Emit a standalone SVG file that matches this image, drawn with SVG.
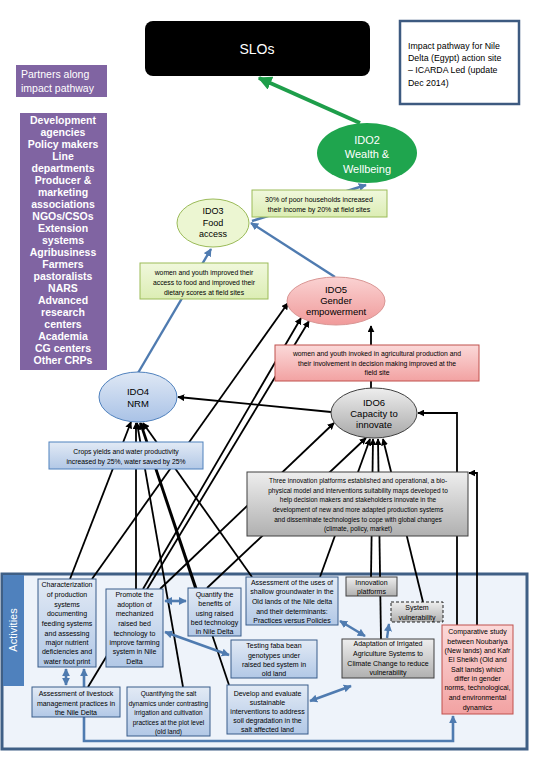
<svg xmlns="http://www.w3.org/2000/svg" width="540" height="780" viewBox="0 0 540 780">
<defs>
<style>
text{font-family:"Liberation Sans",Arial,sans-serif;text-anchor:middle;fill:#000}
.s7{font-size:7px}
.s68{font-size:6.8px}
.s65{font-size:6.5px}
.w{fill:#fff}
.bk{stroke:#000;stroke-width:1.8;fill:none;marker-end:url(#ab)}
.bl{stroke:#4f7bb0;stroke-width:2.4;fill:none}
.bl2{stroke:#4f7bb0;stroke-width:2.6;fill:none;marker-start:url(#au);marker-end:url(#au)}
.bbox{fill:url(#gb);stroke:#385d8a;stroke-width:1}
.gbox{fill:url(#gg);stroke:#404040;stroke-width:1}
.pbox{fill:url(#gp);stroke:#c0504d;stroke-width:1}
.lbox{fill:url(#gl);stroke:#9bbb59;stroke-width:1}
</style>
<linearGradient id="gb" x1="0" y1="0" x2="0" y2="1"><stop offset="0" stop-color="#e2eaf5"/><stop offset="1" stop-color="#b2c8e6"/></linearGradient>
<linearGradient id="gg" x1="0" y1="0" x2="0" y2="1"><stop offset="0" stop-color="#eeeeee"/><stop offset="1" stop-color="#b0b0b0"/></linearGradient>
<linearGradient id="gp" x1="0" y1="0" x2="0" y2="1"><stop offset="0" stop-color="#fbd9d9"/><stop offset="1" stop-color="#f2a2a2"/></linearGradient>
<linearGradient id="gl" x1="0" y1="0" x2="0" y2="1"><stop offset="0" stop-color="#f0f8dc"/><stop offset="1" stop-color="#dcedb4"/></linearGradient>
<linearGradient id="ge5" x1="0" y1="0" x2="0" y2="1"><stop offset="0" stop-color="#fad2d2"/><stop offset="1" stop-color="#f09a9a"/></linearGradient>
<linearGradient id="ge4" x1="0" y1="0" x2="0" y2="1"><stop offset="0" stop-color="#dfe8f5"/><stop offset="1" stop-color="#a9c2e6"/></linearGradient>
<linearGradient id="ge6" x1="0" y1="0" x2="0" y2="1"><stop offset="0" stop-color="#eeeeee"/><stop offset="1" stop-color="#a8a8a8"/></linearGradient>
<marker id="ab" viewBox="0 0 10 10" refX="9" refY="5" markerWidth="7" markerHeight="7" markerUnits="userSpaceOnUse" orient="auto-start-reverse"><path d="M0,0 L10,5 L0,10 z" fill="#000"/></marker>
<marker id="au" viewBox="0 0 10 10" refX="9" refY="5" markerWidth="8" markerHeight="8" markerUnits="userSpaceOnUse" orient="auto-start-reverse"><path d="M0,0 L10,5 L0,10 z" fill="#4f7bb0"/></marker>
<marker id="ag" viewBox="0 0 10 10" refX="9" refY="5" markerWidth="14" markerHeight="14" markerUnits="userSpaceOnUse" orient="auto"><path d="M0,0 L10,5 L0,10 z" fill="#1e9e4a"/></marker>
</defs>
<rect width="540" height="780" fill="#fff"/>

<g id="activities-frame">
<rect x="2" y="574" width="525" height="175" fill="#eef3fa" stroke="#3f5f85" stroke-width="3"/>
<rect x="3" y="575" width="21" height="111" fill="#4f81bd"/>
<text class="w" transform="translate(17,630) rotate(-90)" style="font-size:11px">Activities</text>
</g>

<g id="connectors">
<line x1="360" y1="123" x2="259" y2="78" stroke="#1e9e4a" stroke-width="4" marker-end="url(#ag)"/>
<line x1="252" y1="221" x2="366" y2="185" class="bl" marker-end="url(#au)"/>
<line x1="335" y1="277" x2="251" y2="223" class="bl" marker-end="url(#au)"/>
<line x1="138" y1="373" x2="211" y2="249" class="bl" marker-end="url(#au)"/>
<line x1="371" y1="388" x2="371" y2="326" class="bk"/>
<line x1="331" y1="412" x2="178" y2="397" class="bk"/>
<line x1="70" y1="579" x2="131" y2="422" class="bk"/>
<line x1="92" y1="579" x2="288" y2="303" class="bk"/>
<line x1="143" y1="589" x2="301" y2="318" class="bk"/>
<line x1="88" y1="687" x2="309" y2="321" class="bk"/>
<line x1="136" y1="589" x2="136" y2="423" class="bk"/>
<line x1="160" y1="589" x2="334" y2="423" class="bk"/>
<line x1="195" y1="588" x2="140" y2="423" class="bk"/>
<line x1="207" y1="588" x2="366" y2="438" class="bk"/>
<line x1="183" y1="687" x2="137" y2="423" class="bk"/>
<line x1="229" y1="685" x2="141" y2="423" class="bk"/>
<line x1="252" y1="577" x2="143" y2="423" class="bk"/>
<line x1="320" y1="577" x2="370" y2="439" class="bk"/>
<line x1="371" y1="577" x2="373" y2="439" class="bk"/>
<line x1="381" y1="639" x2="378" y2="439" class="bk"/>
<line x1="423" y1="602" x2="383" y2="439" class="bk"/>
<polyline points="457,625 457,413 418,413" class="bk"/>
<polyline points="477,625 477,473 469,473" class="bk"/>
<line x1="66" y1="669" x2="66" y2="685" class="bl2"/>
<line x1="165" y1="601" x2="186" y2="601" class="bl2"/>
<line x1="165" y1="632" x2="229" y2="655" class="bl2"/>
<line x1="340" y1="621" x2="365" y2="636" class="bl2"/>
<line x1="387" y1="638" x2="389" y2="624" class="bl" marker-end="url(#au)"/>
<line x1="310" y1="701" x2="351" y2="686" class="bl2"/>
<polyline points="84,669 84,741 453,741 453,716" class="bl2"/>
</g>

<g id="slos">
<rect x="145" y="21" width="225" height="55" rx="8" fill="#000"/>
<text class="w" x="257" y="54" style="font-size:14px">SLOs</text>
</g>

<g id="title">
<rect x="400" y="21" width="119" height="83" fill="#fff" stroke="#3d5a80" stroke-width="2.5"/>
<text x="408" y="49" style="font-size:8.8px;text-anchor:start">Impact pathway for Nile</text>
<text x="408" y="61" style="font-size:8.8px;text-anchor:start">Delta (Egypt) action site</text>
<text x="408" y="73" style="font-size:8.8px;text-anchor:start">– ICARDA Led (update</text>
<text x="408" y="86" style="font-size:8.8px;text-anchor:start">Dec 2014)</text>
</g>

<g id="partners-label">
<rect x="16" y="65" width="91" height="32" fill="#8064a2"/>
<text class="w" x="21" y="78" style="font-size:10.5px;text-anchor:start">Partners along</text>
<text class="w" x="21" y="92" style="font-size:10.5px;text-anchor:start">impact pathway</text>
</g>

<g id="partners" style="font-size:10.5px;font-weight:bold">
<rect x="20" y="113" width="87" height="257" fill="#8064a2"/>
<text class="w" x="63" y="124">Development</text>
<text class="w" x="63" y="136">agencies</text>
<text class="w" x="63" y="148">Policy makers</text>
<text class="w" x="63" y="160">Line</text>
<text class="w" x="63" y="172">departments</text>
<text class="w" x="63" y="184">Producer &amp;</text>
<text class="w" x="63" y="196">marketing</text>
<text class="w" x="63" y="208">associations</text>
<text class="w" x="63" y="220">NGOs/CSOs</text>
<text class="w" x="63" y="232">Extension</text>
<text class="w" x="63" y="244">systems</text>
<text class="w" x="63" y="256">Agribusiness</text>
<text class="w" x="63" y="268">Farmers</text>
<text class="w" x="63" y="280">pastoralists</text>
<text class="w" x="63" y="292">NARS</text>
<text class="w" x="63" y="304">Advanced</text>
<text class="w" x="63" y="316">research</text>
<text class="w" x="63" y="328">centers</text>
<text class="w" x="63" y="340">Academia</text>
<text class="w" x="63" y="352">CG centers</text>
<text class="w" x="63" y="364">Other CRPs</text>
</g>

<g id="ido2">
<ellipse cx="367" cy="153" rx="50" ry="30" fill="#1fa54e"/>
<text class="w" x="367" y="144" style="font-size:11px">IDO2</text>
<text class="w" x="367" y="158" style="font-size:11px">Wealth &amp;</text>
<text class="w" x="367" y="173" style="font-size:11px">Wellbeing</text>
</g>

<g id="income-outcome">
<rect x="252" y="190" width="135" height="27" class="lbox"/>
<text class="s7" x="319" y="201.5">30% of poor households increased</text>
<text class="s7" x="319" y="211.5">their income by 20% at field sites</text>
</g>

<g id="ido3">
<ellipse cx="213" cy="223" rx="36" ry="24" fill="#ecf6d2" stroke="#9bbb59" stroke-width="1"/>
<text x="213" y="213.5" style="font-size:9px">IDO3</text>
<text x="213" y="225.5" style="font-size:9px">Food</text>
<text x="213" y="236.5" style="font-size:9px">access</text>
</g>

<g id="food-outcome">
<rect x="140" y="263" width="128" height="36" class="lbox"/>
<text class="s68" x="204" y="274.5">women and youth improved their</text>
<text class="s68" x="204" y="284.5">access to food and  improved their</text>
<text class="s68" x="204" y="294.5">dietary scores at field sites</text>
</g>

<g id="ido5">
<ellipse cx="336" cy="301" rx="49" ry="24" fill="url(#ge5)" stroke="#d99694" stroke-width="1"/>
<text x="336" y="293" style="font-size:9.5px">IDO5</text>
<text x="336" y="304" style="font-size:9.5px">Gender</text>
<text x="336" y="315" style="font-size:9.5px">empowerment</text>
</g>

<g id="gender-outcome">
<rect x="275" y="345" width="204" height="36" class="pbox"/>
<text class="s68" x="377" y="355.5">women and youth invoked in agricultural production and</text>
<text class="s68" x="377" y="365.5">their involvement in decision making improved at  the</text>
<text class="s68" x="377" y="375">field site</text>
</g>

<g id="ido4">
<ellipse cx="138" cy="397" rx="39" ry="25" fill="url(#ge4)" stroke="#4f81bd" stroke-width="1"/>
<text x="138" y="395" style="font-size:9.5px">IDO4</text>
<text x="138" y="406.5" style="font-size:9.5px">NRM</text>
</g>

<g id="ido6">
<ellipse cx="374" cy="413" rx="43" ry="25" fill="url(#ge6)" stroke="#404040" stroke-width="1"/>
<text x="374" y="406" style="font-size:9.5px">IDO6</text>
<text x="374" y="417" style="font-size:9.5px">Capacity to</text>
<text x="374" y="428" style="font-size:9.5px">innovate</text>
</g>

<g id="nrm-outcome">
<rect x="49" y="442" width="154" height="27" fill="url(#gb)" stroke="#4f81bd" stroke-width="1"/>
<text class="s68" x="126" y="453.5">Crops yields and water productivity</text>
<text class="s68" x="126" y="463.5">increased by 25%, water saved by 25%</text>
</g>

<g id="innovation-outcome">
<rect x="247" y="472" width="221" height="64" class="gbox"/>
<text class="s65" x="358" y="483">Three  innovation platforms established and operational, a bio-</text>
<text class="s65" x="358" y="492.5">physical model and interventions suitability maps developed to</text>
<text class="s65" x="358" y="502">help decision makers and stakeholders innovate in the</text>
<text class="s65" x="358" y="511.5">development of new and more adapted production systems</text>
<text class="s65" x="358" y="521.5">and disseminate technologies to cope with global changes</text>
<text class="s65" x="358" y="531">(climate, policy, market)</text>
</g>

<g id="act-characterization">
<rect x="38" y="579" width="58" height="88" class="bbox"/>
<text class="s7" x="67" y="586.5">Characterization</text>
<text class="s7" x="67" y="596.5">of production</text>
<text class="s7" x="67" y="606.5">systems</text>
<text class="s7" x="67" y="615.5">documenting</text>
<text class="s7" x="67" y="625.5">feeding systems</text>
<text class="s7" x="67" y="635.5">and assessing</text>
<text class="s7" x="67" y="644.5">major nutrient</text>
<text class="s7" x="67" y="653.5">deficiencies and</text>
<text class="s7" x="67" y="663.5">water foot print</text>
</g>

<g id="act-promote">
<rect x="106" y="589" width="57" height="78" class="bbox"/>
<text class="s7" x="134.5" y="596.5">Promote the</text>
<text class="s7" x="134.5" y="606.5">adoption of</text>
<text class="s7" x="134.5" y="615.5">mechanized</text>
<text class="s7" x="134.5" y="625.5">raised bed</text>
<text class="s7" x="134.5" y="635.5">technology to</text>
<text class="s7" x="134.5" y="644.5">improve farming</text>
<text class="s7" x="134.5" y="653.5">system in Nile</text>
<text class="s7" x="134.5" y="663.5">Delta</text>
</g>

<g id="act-quantify-benefits">
<rect x="188" y="588" width="53" height="48" class="bbox"/>
<text class="s7" x="214.5" y="596.5">Quantify the</text>
<text class="s7" x="214.5" y="605.5">benefits of</text>
<text class="s7" x="214.5" y="615.5">using raised</text>
<text class="s7" x="214.5" y="624.5">bed technology</text>
<text class="s7" x="214.5" y="634">in Nile Delta</text>
</g>

<g id="act-groundwater">
<rect x="246" y="577" width="92" height="48" class="bbox"/>
<text class="s7" x="292" y="584.5">Assessment of the uses of</text>
<text class="s7" x="292" y="593.5">shallow groundwater in the</text>
<text class="s7" x="292" y="603.5">Old lands of the Nile delta</text>
<text class="s7" x="292" y="613.5">and their determinants:</text>
<text class="s7" x="292" y="623">Practices versus Policies</text>
</g>

<g id="act-innovation-platforms">
<rect x="346" y="577" width="51" height="19" class="gbox"/>
<text class="s7" x="371.5" y="584.5">Innovation</text>
<text class="s7" x="371.5" y="593.5">platforms</text>
</g>

<g id="act-system-vulnerability">
<rect x="391" y="602" width="52" height="20" fill="url(#gg)" stroke="#222" stroke-width="1" stroke-dasharray="3,2"/>
<text class="s7" x="417" y="609.5">System</text>
<text class="s7" x="417" y="619.5">vulnerability</text>
</g>

<g id="act-comparative">
<rect x="442" y="625" width="71" height="89" class="pbox"/>
<text class="s7" x="477.5" y="633.5">Comparative study</text>
<text class="s7" x="477.5" y="643.5">between Noubariya</text>
<text class="s7" x="477.5" y="652.5">(New lands) and Kafr</text>
<text class="s7" x="477.5" y="661.5">El Sheikh (Old and</text>
<text class="s7" x="477.5" y="671.5">Salt lands) which</text>
<text class="s7" x="477.5" y="680.5">differ in gender</text>
<text class="s7" x="477.5" y="689.5">norms, technological,</text>
<text class="s7" x="477.5" y="699.5">and environmental</text>
<text class="s7" x="477.5" y="709.5">dynamics</text>
</g>

<g id="act-faba">
<rect x="231" y="640" width="86" height="38" class="bbox"/>
<text class="s7" x="274" y="647.5">Testing faba bean</text>
<text class="s7" x="274" y="657.5">genotypes under</text>
<text class="s7" x="274" y="666.5">raised bed system in</text>
<text class="s7" x="274" y="676">old land</text>
</g>

<g id="act-adaptation">
<rect x="342" y="639" width="92" height="39" class="gbox"/>
<text class="s7" x="388" y="645.5">Adaptation of Irrigated</text>
<text class="s7" x="388" y="655.5">Agriculture Systems to</text>
<text class="s7" x="388" y="665.5">Climate Change to reduce</text>
<text class="s7" x="388" y="675">vulnerability</text>
</g>

<g id="act-livestock">
<rect x="32" y="687" width="88" height="30" class="bbox"/>
<text class="s7" x="76" y="695.5">Assessment of  livestock</text>
<text class="s7" x="76" y="705.5">management practices in</text>
<text class="s7" x="76" y="715">the Nile Delta</text>
</g>

<g id="act-salt">
<rect x="127" y="687" width="83" height="49" class="bbox"/>
<text class="s65" x="168.5" y="695.5">Quantifying the salt</text>
<text class="s65" x="168.5" y="705.5">dynamics under contrasting</text>
<text class="s65" x="168.5" y="715">irrigation and cultivation</text>
<text class="s65" x="168.5" y="724.5">practices at the plot level</text>
<text class="s65" x="168.5" y="734">(old land)</text>
</g>

<g id="act-develop">
<rect x="227" y="685" width="81" height="49" class="bbox"/>
<text class="s7" x="267.5" y="695.5">Develop and evaluate</text>
<text class="s7" x="267.5" y="704.5">sustainable</text>
<text class="s7" x="267.5" y="713.5">interventions to address</text>
<text class="s7" x="267.5" y="722.5">soil degradation in the</text>
<text class="s7" x="267.5" y="731.5">salt affected land</text>
</g>
</svg>
